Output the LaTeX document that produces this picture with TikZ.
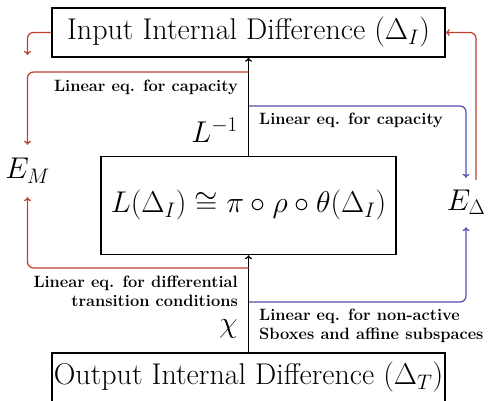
\RequirePackage{fix-cm}
\documentclass[tikz,border=0pt]{standalone}
\usetikzlibrary{arrows.meta}
\definecolor{redc}{RGB}{192,62,45}
\definecolor{bluec}{RGB}{88,78,178}
\begin{document}
\begin{tikzpicture}[x=1pt,y=-1pt,
  bigbox/.style={draw,line width=1.4pt,inner sep=0pt,font=\fontsize{30}{36}\selectfont},
  conn/.style={line width=1.25pt,-{To[length=4pt,width=7pt]}},
  redconn/.style={conn,draw=redc,rounded corners=6pt},
  blueconn/.style={conn,draw=bluec,rounded corners=6pt},
  lab/.style={font=\fontsize{16.4}{19.5}\selectfont\bfseries,inner sep=0pt},
  mlab/.style={font=\fontsize{30}{36}\selectfont,inner sep=0pt},
  sidelab/.style={font=\fontsize{30}{36}\selectfont,inner sep=0pt}]
\useasboundingbox (0,0) rectangle (488,401);
\node[bigbox,minimum width=393pt,minimum height=49pt] (in) at (248.5,32.5) {Input Internal Difference ($\Delta_I$)};
\node[bigbox,minimum width=295pt,minimum height=98pt] (mid) at (248.5,205.5) {$L(\Delta_I)\cong\pi\circ\rho\circ\theta(\Delta_I)$};
\node[bigbox,minimum width=393pt,minimum height=49pt] (out) at (248.5,377.5) {Output Internal Difference ($\Delta_T$)};
\node[sidelab,minimum height=52pt] (EM) at (27.5,171) {$E_M$};
\node[sidelab,minimum height=49pt] (ED) at (466,202.5) {$E_\Delta$};
% black
\draw[conn] (out.north) -- (mid.south);
\draw[conn] (mid.north) -- (in.south);
% junction points on the black line
\coordinate (j1) at (248.5,72);
\coordinate (j2) at (248.5,106);
\coordinate (j3) at (248.5,268);
\coordinate (j4) at (248.5,302);
\coordinate (l1) at (27.5,55);
\coordinate (r0) at (476,180);
% red
\draw[redconn] (in.west) -| (l1);
\draw[redconn] (j1) -| (EM.north);
\draw[redconn] (j3) -| (EM.south);
\draw[redconn] (r0) |- (in.east);
% blue
\draw[blueconn] (j2) -| (ED.north);
\draw[blueconn] (j4) -| (ED.south);
% labels
\node[lab,anchor=east] (c1) at (238,87) {Linear eq. for capacity};
\node[mlab,anchor=east] (linv) at (238,130) {$L^{-1}$};
\node[lab,anchor=west] (c2) at (259,120) {Linear eq. for capacity};
\node[lab,anchor=east,align=right] (c3) at (238,291.5) {Linear eq. for differential\\transition conditions};
\node[mlab,anchor=east] (chi) at (238,329) {$\chi$};
\node[lab,anchor=west,align=left] (c4) at (259,326) {Linear eq. for non-active\\Sboxes and affine subspaces};
\end{tikzpicture}
\end{document}
